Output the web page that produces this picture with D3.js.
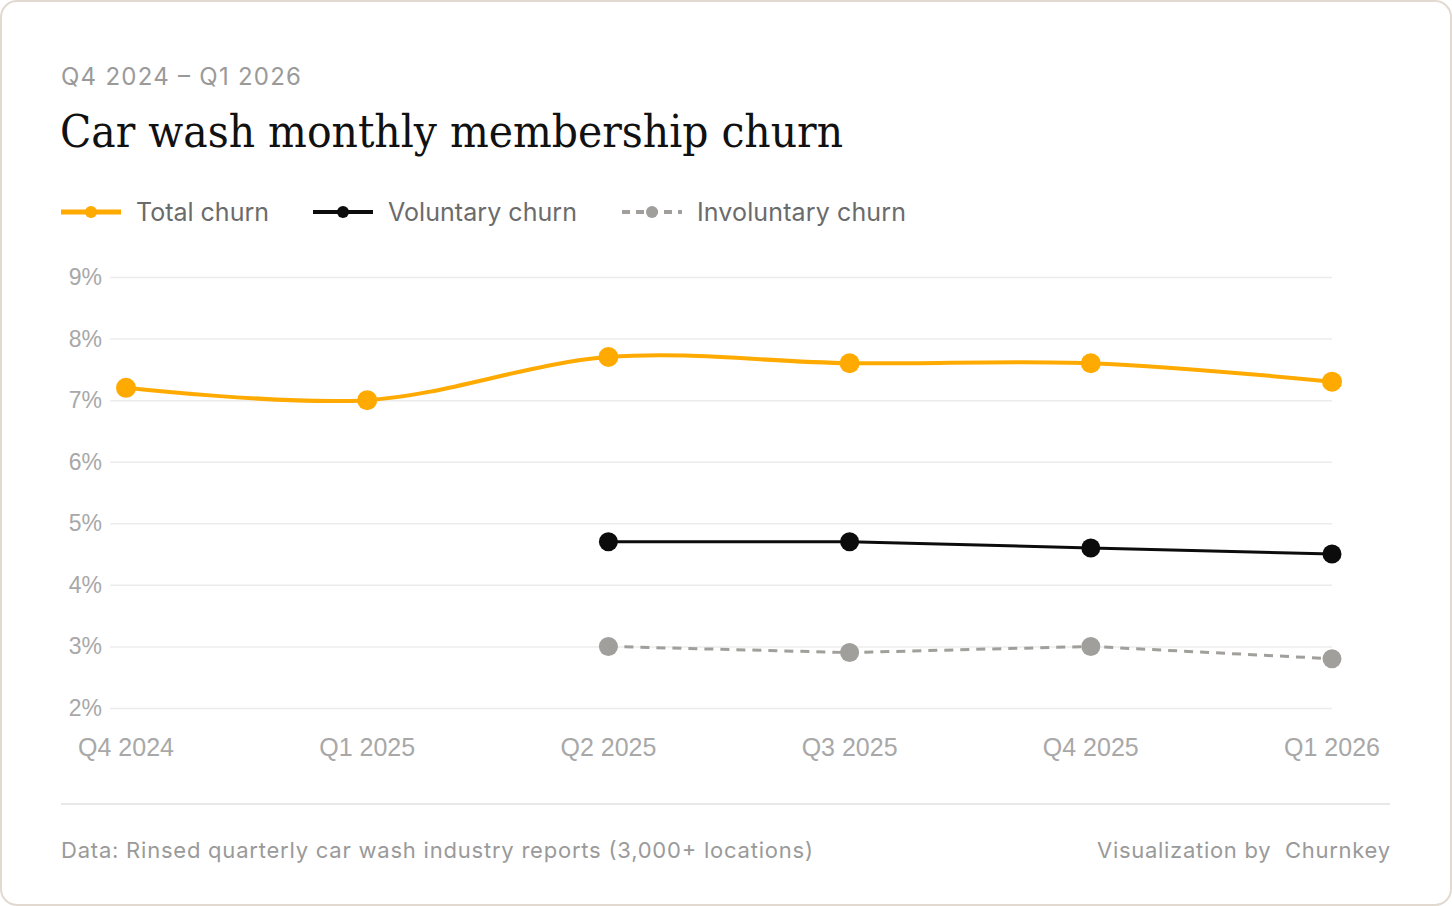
<!DOCTYPE html>
<head>
<meta charset="utf-8">
<title>Car wash monthly membership churn</title>
<style>
body, html {
  margin: 0;
  padding: 0;
  background: #fff;
}
.card-bg {
  fill: #fff;
  stroke: #e2dad0;
  stroke-width: 2px;
}
.grid line {
  stroke: #ececec;
  stroke-width: 1.5px;
}
.sans {
  font-family: "Inter", "Noto Sans", sans-serif;
}
.axis-label {
  font-family: "Liberation Sans", Arial, sans-serif;
  fill: #a8a8a8;
}
</style>
<script src="https://d3js.org/d3.v7.min.js"></script>
</head>
<body>
<svg id="chart" width="1452" height="906"></svg>
<script>

var quarters = ["Q4 2024", "Q1 2025", "Q2 2025", "Q3 2025", "Q4 2025", "Q1 2026"];
var totalChurn = [7.2, 7.0, 7.7, 7.6, 7.6, 7.3];
var voluntaryChurn = [null, null, 4.7, 4.7, 4.6, 4.5];
var involuntaryChurn = [null, null, 3.0, 2.9, 3.0, 2.8];
var yTicks = [2, 3, 4, 5, 6, 7, 8, 9];

var series = [
  { name: "Total churn", values: totalChurn, color: "#ffaa00", width: 4, r: 10, dash: null, curve: d3.curveCatmullRom },
  { name: "Voluntary churn", values: voluntaryChurn, color: "#0c0c0c", width: 3, r: 9.5, dash: null, curve: d3.curveLinear },
  { name: "Involuntary churn", values: involuntaryChurn, color: "#a19f9b", width: 3, r: 9.5, dash: "9,7", curve: d3.curveLinear }
];

var svg = d3.select("#chart");

svg.append("rect")
  .attr("class", "card-bg")
  .attr("x", 1).attr("y", 1)
  .attr("width", 1450).attr("height", 904)
  .attr("rx", 16);

// header
svg.append("text")
  .attr("class", "sans")
  .attr("x", 61).attr("y", 85)
  .attr("font-size", 24)
  .attr("fill", "#9a9a9a")
  .attr("textLength", 240)
  .attr("lengthAdjust", "spacing")
  .text("Q4 2024 \u2013 Q1 2026");

svg.append("text")
  .attr("x", 60).attr("y", 147)
  .attr("font-family", "'DejaVu Serif', serif")
  .attr("font-size", 44)
  .attr("textLength", 783)
  .attr("lengthAdjust", "spacingAndGlyphs")
  .attr("fill", "#111")
  .text("Car wash monthly membership churn");

// legend
var legendX = [61, 313, 622];
var legendW = [133, 189, 209];
var legend = svg.append("g").selectAll("g")
  .data(series)
  .join("g")
  .attr("transform", function(d, i) { return "translate(" + legendX[i] + ",212)"; });

legend.append("line")
  .attr("x1", 0).attr("x2", 60)
  .attr("stroke", function(d) { return d.color; })
  .attr("stroke-width", function(d, i) { return i == 0 ? 5 : 4; })
  .attr("stroke-dasharray", function(d) { return d.dash ? "8,6" : null; });

legend.append("circle")
  .attr("cx", 30)
  .attr("r", 6)
  .attr("fill", function(d) { return d.color; });

legend.append("text")
  .attr("class", "sans")
  .attr("x", 75).attr("y", 9)
  .attr("font-size", 25)
  .attr("fill", "#6b6b6b")
  .attr("textLength", function(d, i) { return legendW[i]; })
  .attr("lengthAdjust", "spacing")
  .text(function(d) { return d.name; });

// scales
var x = d3.scalePoint()
  .domain(quarters)
  .range([126, 1332]);

var y = d3.scaleLinear()
  .domain([2, 9])
  .range([708, 277]);

// grid
svg.append("g")
  .attr("class", "grid")
  .attr("transform", "translate(110,0)")
  .call(d3.axisLeft(y).tickValues(yTicks).tickSize(-1222).tickFormat(""))
  .call(function(g) { g.select(".domain").remove(); });

// y labels
svg.append("g").selectAll("text")
  .data(yTicks)
  .join("text")
  .attr("class", "axis-label")
  .attr("x", 102)
  .attr("y", function(d) { return y(d) + 8; })
  .attr("text-anchor", "end")
  .attr("font-size", 23)
  .text(function(d) { return d + "%"; });

// x labels
svg.append("g").selectAll("text")
  .data(quarters)
  .join("text")
  .attr("class", "axis-label")
  .attr("x", function(d) { return x(d); })
  .attr("y", 756)
  .attr("text-anchor", "middle")
  .attr("font-size", 25)
  .text(function(d) { return d; });

// lines + points
series.forEach(function(s) {
  var pts = quarters.map(function(q, i) { return { q: q, v: s.values[i] }; })
    .filter(function(p) { return p.v != null; });

  var line = d3.line()
    .x(function(p) { return x(p.q); })
    .y(function(p) { return y(p.v); })
    .curve(s.curve);

  svg.append("path")
    .datum(pts)
    .attr("fill", "none")
    .attr("stroke", s.color)
    .attr("stroke-width", s.width)
    .attr("stroke-dasharray", s.dash)
    .attr("d", line);

  svg.append("g").selectAll("circle")
    .data(pts)
    .join("circle")
    .attr("cx", function(p) { return x(p.q); })
    .attr("cy", function(p) { return y(p.v); })
    .attr("r", s.r)
    .attr("fill", s.color);
});

// footer
svg.append("line")
  .attr("x1", 61).attr("x2", 1390)
  .attr("y1", 804).attr("y2", 804)
  .attr("stroke", "#e0e0e0")
  .attr("stroke-width", 1.5);

svg.append("text")
  .attr("class", "sans")
  .attr("x", 61).attr("y", 858)
  .attr("font-size", 22)
  .attr("fill", "#9a9a9a")
  .attr("textLength", 752)
  .attr("lengthAdjust", "spacing")
  .text("Data: Rinsed quarterly car wash industry reports (3,000+ locations)");

svg.append("text")
  .attr("class", "sans")
  .attr("x", 1097).attr("y", 858)
  .attr("font-size", 22)
  .attr("fill", "#9a9a9a")
  .attr("textLength", 293)
  .attr("lengthAdjust", "spacing")
  .attr("xml:space", "preserve")
  .text("Visualization by  Churnkey");

</script>
</body>
</html>
